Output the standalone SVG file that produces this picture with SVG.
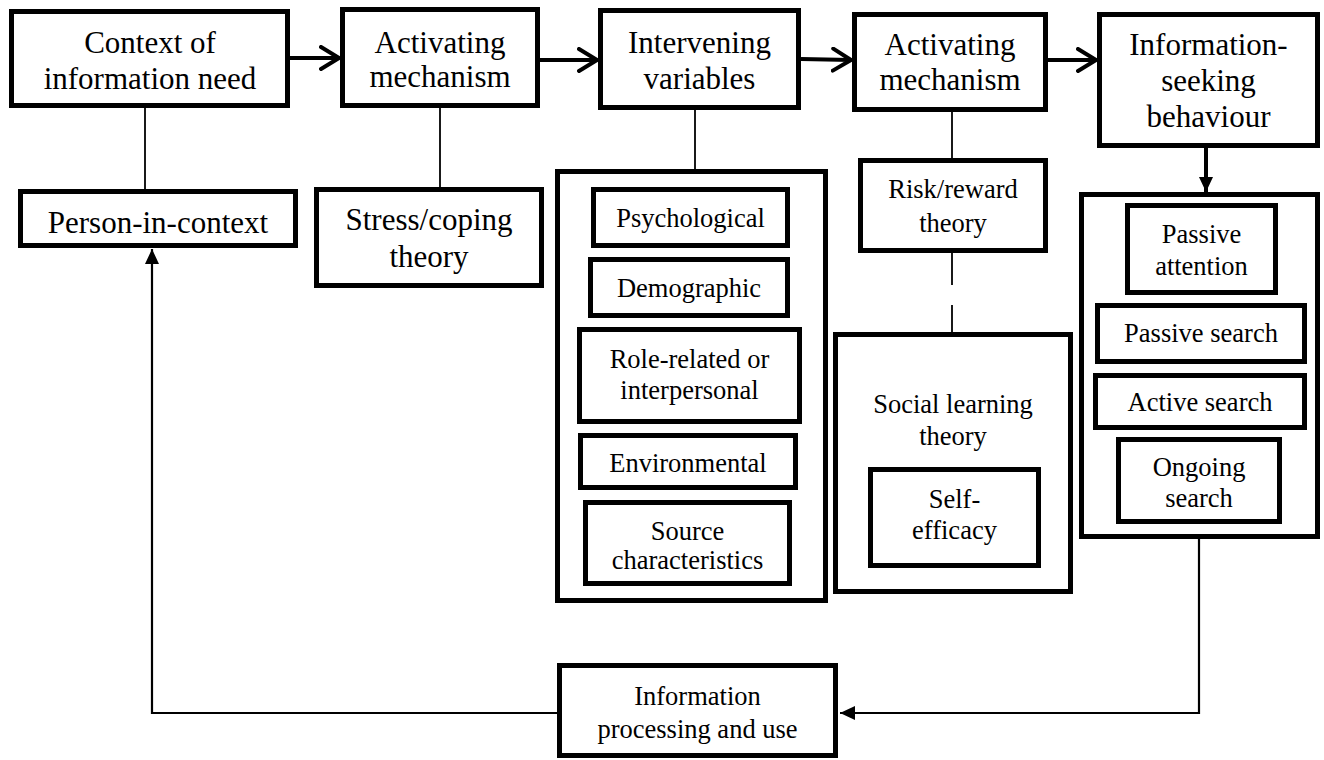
<svg xmlns="http://www.w3.org/2000/svg" width="1324" height="760" viewBox="0 0 1324 760">
  <style>
    .box { fill: #fff; stroke: #000; stroke-width: 5; }
    .t { font-family: "Liberation Serif", "Times New Roman", serif; fill: #000; text-anchor: middle; }
    .big { font-size: 31px; }
    .sm { font-size: 26.5px; }
    .thin { stroke: #000; stroke-width: 1.8; fill: none; }
    .flow { stroke: #000; stroke-width: 4; fill: none; }
    .loop { stroke: #000; stroke-width: 2.2; fill: none; }
  </style>
  <defs>
    <marker id="open" markerUnits="userSpaceOnUse" viewBox="0 0 22 26" refX="20" refY="13" markerWidth="22" markerHeight="26" orient="auto">
      <path d="M2,2 L20,13 L2,24" fill="none" stroke="#000" stroke-width="4" stroke-linecap="round" stroke-linejoin="round"/>
    </marker>
    <marker id="solid" markerUnits="userSpaceOnUse" viewBox="0 0 15 14" refX="15" refY="7" markerWidth="15" markerHeight="14" orient="auto">
      <path d="M0,0 L15,7 L0,14 z" fill="#000"/>
    </marker>
  </defs>

  <!-- connectors -->
  <g id="connectors">
    <line class="flow" x1="290" y1="58" x2="339" y2="58" marker-end="url(#open)"/>
    <line class="flow" x1="540" y1="60" x2="597" y2="60" marker-end="url(#open)"/>
    <line class="flow" x1="801" y1="59" x2="851" y2="60" marker-end="url(#open)"/>
    <line class="flow" x1="1048" y1="60" x2="1096" y2="60" marker-end="url(#open)"/>
    <line class="flow" x1="1206" y1="148" x2="1206" y2="192" marker-end="url(#solid)"/>
    <line class="thin" x1="145" y1="108" x2="145" y2="189"/>
    <line class="thin" x1="440" y1="108" x2="440" y2="187"/>
    <line class="thin" x1="695" y1="110" x2="695" y2="169"/>
    <line class="thin" x1="952" y1="112" x2="952" y2="158"/>
    <line class="thin" x1="952" y1="253" x2="952" y2="285"/>
    <line class="thin" x1="952" y1="305" x2="952" y2="332"/>
    <polyline class="loop" points="1199,539 1199,713 840,713" marker-end="url(#solid)"/>
    <polyline class="loop" points="557,713 152,713 152,249" marker-end="url(#solid)"/>
  </g>

  <!-- top row -->
  <g id="context">
    <rect class="box" x="11.5" y="11.5" width="276" height="94"/>
    <text class="t big" x="150" y="53">Context of</text>
    <text class="t big" x="150" y="89">information need</text>
  </g>
  <g id="activating1">
    <rect class="box" x="342.5" y="9.5" width="195" height="96"/>
    <text class="t big" x="440" y="53">Activating</text>
    <text class="t big" x="440" y="87">mechanism</text>
  </g>
  <g id="intervening">
    <rect class="box" x="600.5" y="10.5" width="198" height="97"/>
    <text class="t big" x="699.5" y="53">Intervening</text>
    <text class="t big" x="699.5" y="89">variables</text>
  </g>
  <g id="activating2">
    <rect class="box" x="854.5" y="14.5" width="191" height="95"/>
    <text class="t big" x="950" y="55">Activating</text>
    <text class="t big" x="950" y="90">mechanism</text>
  </g>
  <g id="seeking">
    <rect class="box" x="1099.5" y="14.5" width="218" height="131"/>
    <text class="t big" x="1208.5" y="55">Information-</text>
    <text class="t big" x="1208.5" y="91">seeking</text>
    <text class="t big" x="1208.5" y="127">behaviour</text>
  </g>

  <!-- second row -->
  <g id="person">
    <rect class="box" x="20.5" y="191.5" width="275" height="54"/>
    <text class="t big" x="158" y="233">Person-in-context</text>
  </g>
  <g id="stress">
    <rect class="box" x="316.5" y="189.5" width="225" height="96"/>
    <text class="t big" x="429" y="230">Stress/coping</text>
    <text class="t big" x="429" y="267">theory</text>
  </g>

  <!-- intervening variables list -->
  <g id="variables">
    <rect class="box" x="557.5" y="171.5" width="268" height="429"/>
  </g>
  <g id="psychological">
    <rect class="box" x="593.5" y="189.5" width="194" height="56"/>
    <text class="t sm" x="690.5" y="227">Psychological</text>
  </g>
  <g id="demographic">
    <rect class="box" x="590.5" y="259.5" width="197" height="56"/>
    <text class="t sm" x="689" y="297">Demographic</text>
  </g>
  <g id="role">
    <rect class="box" x="579.5" y="329.5" width="220" height="92"/>
    <text class="t sm" x="689.5" y="368">Role-related or</text>
    <text class="t sm" x="689.5" y="399">interpersonal</text>
  </g>
  <g id="environmental">
    <rect class="box" x="580.5" y="435.5" width="215" height="52"/>
    <text class="t sm" x="688" y="472">Environmental</text>
  </g>
  <g id="source">
    <rect class="box" x="585.5" y="502.5" width="204" height="81"/>
    <text class="t sm" x="687.5" y="540">Source</text>
    <text class="t sm" x="687.5" y="569">characteristics</text>
  </g>

  <!-- risk / social learning column -->
  <g id="risk">
    <rect class="box" x="860.5" y="160.5" width="185" height="90"/>
    <text class="t sm" x="953" y="198">Risk/reward</text>
    <text class="t sm" x="953" y="232">theory</text>
  </g>
  <g id="social">
    <rect class="box" x="835.5" y="334.5" width="235" height="257"/>
    <text class="t sm" x="953" y="413">Social learning</text>
    <text class="t sm" x="953" y="445">theory</text>
  </g>
  <g id="selfefficacy">
    <rect class="box" x="870.5" y="469.5" width="168" height="96"/>
    <text class="t sm" x="954.5" y="508">Self-</text>
    <text class="t sm" x="954.5" y="539">efficacy</text>
  </g>

  <!-- seeking behaviour types -->
  <g id="behaviours">
    <rect class="box" x="1081.5" y="194.5" width="236" height="342"/>
  </g>
  <g id="passiveattention">
    <rect class="box" x="1127.5" y="205.5" width="148" height="87"/>
    <text class="t sm" x="1201.5" y="243">Passive</text>
    <text class="t sm" x="1201.5" y="275">attention</text>
  </g>
  <g id="passivesearch">
    <rect class="box" x="1097.5" y="305.5" width="207" height="56"/>
    <text class="t sm" x="1201" y="342">Passive search</text>
  </g>
  <g id="activesearch">
    <rect class="box" x="1095.5" y="375.5" width="209" height="52"/>
    <text class="t sm" x="1200" y="411">Active search</text>
  </g>
  <g id="ongoing">
    <rect class="box" x="1118.5" y="439.5" width="161" height="82"/>
    <text class="t sm" x="1199" y="476">Ongoing</text>
    <text class="t sm" x="1199" y="507">search</text>
  </g>

  <!-- bottom -->
  <g id="processing">
    <rect class="box" x="559.5" y="665.5" width="276" height="90"/>
    <text class="t sm" x="697.5" y="705">Information</text>
    <text class="t sm" x="697.5" y="738">processing and use</text>
  </g>
</svg>
